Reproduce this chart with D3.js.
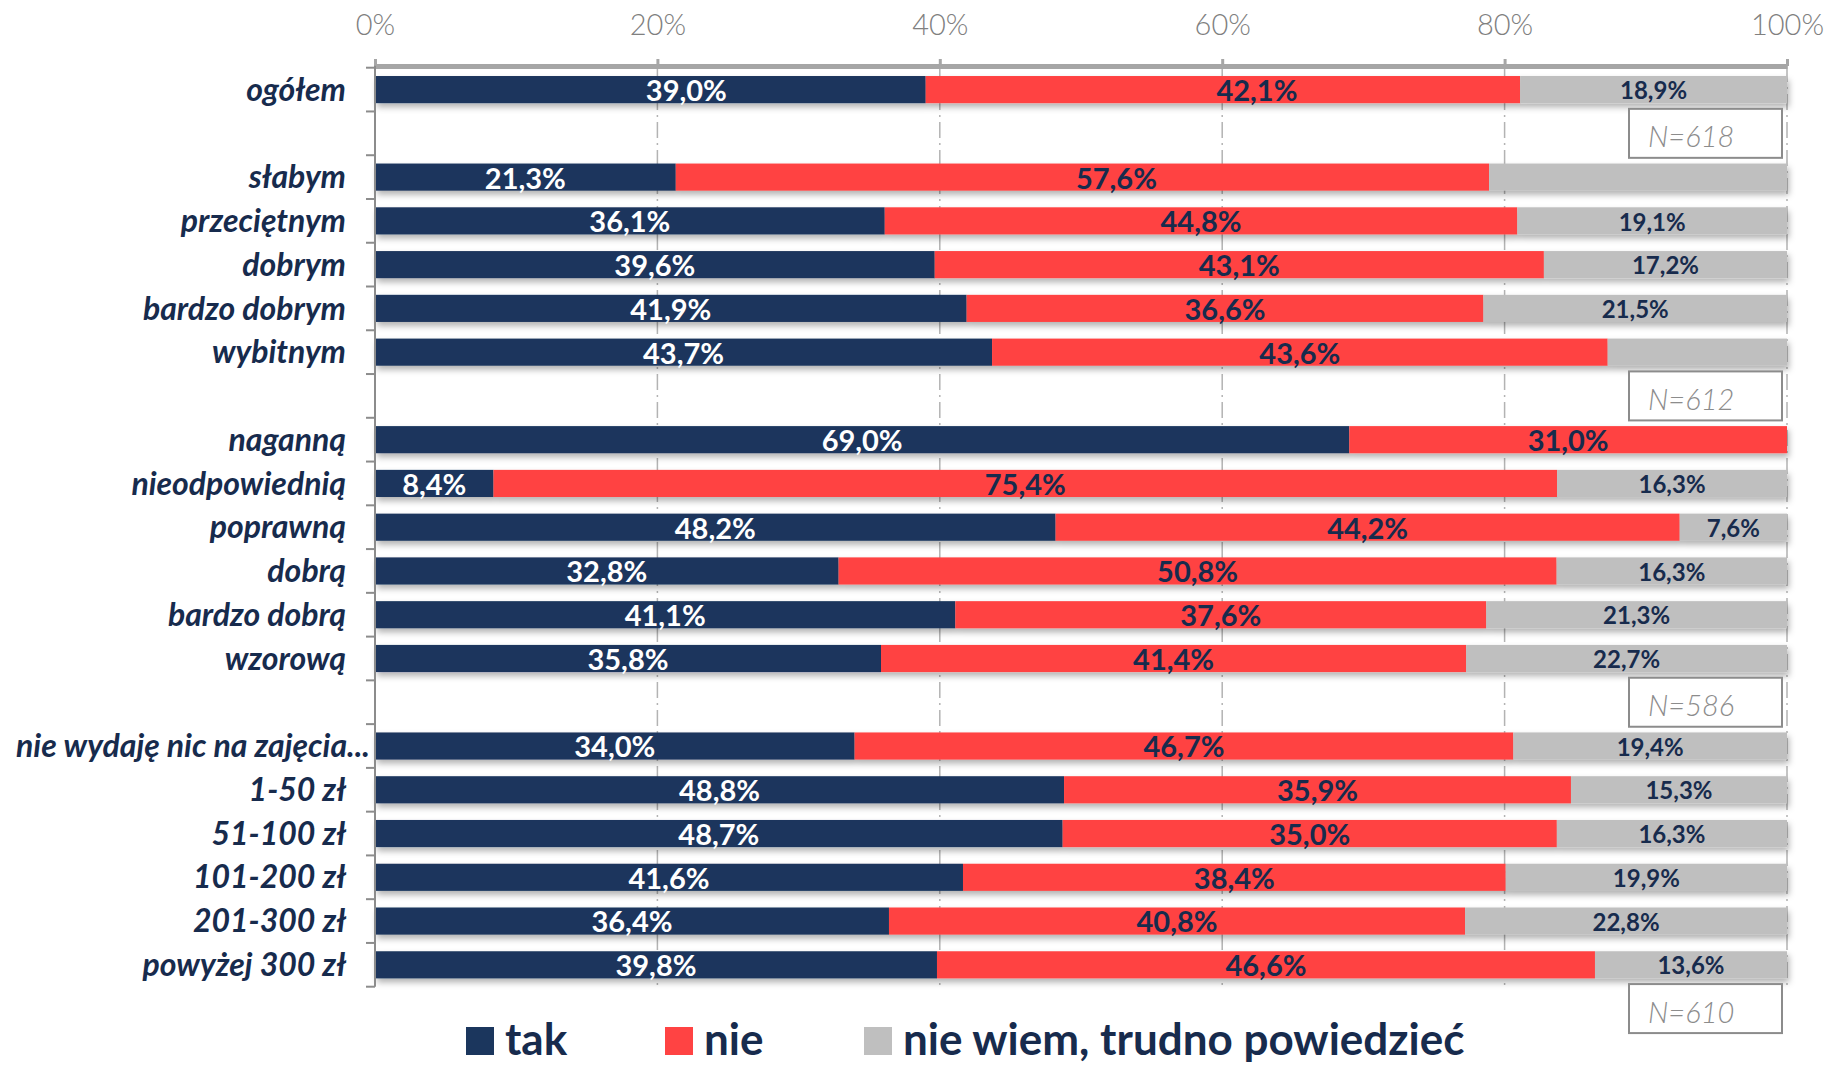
<!DOCTYPE html>
<html><head><meta charset="utf-8">
<script src="https://cdn.jsdelivr.net/npm/d3@7"></script>
<style>body{margin:0;background:#fff} svg{display:block}</style>
</head><body>
<svg id="chart" width="1825" height="1066"></svg>
<script>
// ---- data ----
const groupOgolem = ["ogółem"];
const groupOcena = ["słabym","przeciętnym","dobrym","bardzo dobrym","wybitnym"];
const groupZachowanie = ["naganną","nieodpowiednią","poprawną","dobrą","bardzo dobrą","wzorową"];
const groupWydatki = ["nie wydaję nic na zajęcia...","1-50 zł","51-100 zł","101-200 zł","201-300 zł","powyżej 300 zł"];
const sampleSizes = ["N=618","N=612","N=586","N=610"];
const seriesNames = ["tak","nie","nie wiem, trudno powiedzieć"];
const tak     = [39.0, 21.3,36.1,39.6,41.9,43.7, 69.0, 8.4,48.2,32.8,41.1,35.8, 34.0,48.8,48.7,41.6,36.4,39.8];
const nie     = [42.1, 57.6,44.8,43.1,36.6,43.6, 31.0,75.4,44.2,50.8,37.6,41.4, 46.7,35.9,35.0,38.4,40.8,46.6];
const nieWiem = [18.9, 21.1,19.1,17.2,21.5,12.7,  0.0,16.3, 7.6,16.3,21.3,22.7, 19.4,15.3,16.3,19.9,22.8,13.6];
const unlabeledNieWiem = ["słabym","wybitnym","naganną"];
const xTicks = [0,0.2,0.4,0.6,0.8,1];

// ---- build ----
const groups = [groupOgolem, groupOcena, groupZachowanie, groupWydatki];
const categories = groups.flat();
const slots = [];
groups.forEach((g,i)=>{ g.forEach(c=>slots.push(c)); if(i<groups.length-1) slots.push("__gap"+i); });
const rows = categories.map((c,i)=>({cat:c, "tak":tak[i], "nie":nie[i], "nie wiem, trudno powiedzieć":nieWiem[i]}));
const stacked = d3.stack().keys(seriesNames).offset(d3.stackOffsetExpand)(rows);

const colors = {"tak":"#1b365d","nie":"#ff4343","nie wiem, trudno powiedzieć":"#bfbfbf"};
const navy = "#172b4d";
const FONT = "Lato, 'Open Sans', 'DejaVu Sans', sans-serif";

const svg = d3.select("#chart").style("font-family", FONT);
const x = d3.scaleLinear().domain([0,1]).range([375,1787]);
const y = d3.scaleBand().domain(slots).range([67.7,986.7]).paddingInner(0.38).paddingOuter(0.19);

const defs = svg.append("defs");
const f = defs.append("filter").attr("id","sh").attr("x","-5%").attr("y","-50%").attr("width","110%").attr("height","220%");
f.append("feDropShadow").attr("dx",2).attr("dy",4).attr("stdDeviation",3).attr("flood-color","#000").attr("flood-opacity",0.3);

// gridlines
svg.append("g").selectAll("line").data(xTicks.filter(d=>d>0)).join("line")
  .attr("x1",d=>x(d)).attr("x2",d=>x(d)).attr("y1",66).attr("y2",987)
  .attr("stroke","#b3b3b3").attr("stroke-width",1.5).attr("stroke-dasharray","16,5,2,5");

// bars
const barG = svg.append("g").attr("filter","url(#sh)");
barG.selectAll("g").data(stacked).join("g").attr("fill",d=>colors[d.key])
  .selectAll("rect").data(d=>d).join("rect")
  .attr("x",d=>x(d[0])).attr("width",d=>Math.max(0,x(d[1])-x(d[0])))
  .attr("y",d=>y(d.data.cat)).attr("height",y.bandwidth());

// top axis
const axT = svg.append("g").attr("transform","translate(0,66)")
  .call(d3.axisTop(x).tickValues(xTicks).tickFormat(d3.format(".0%")).tickSize(7).tickSizeOuter(0));
axT.select(".domain").attr("stroke","#a6a6a6").attr("stroke-width",5);
axT.selectAll(".tick line").attr("stroke","#a6a6a6").attr("stroke-width",3);
axT.selectAll(".tick text").attr("y",-31).attr("dy",0).attr("fill","#808080")
  .style("font-size","29px").style("font-weight",300).style("font-family",FONT);

// left axis
const step = y.step();
const yTop = y.range()[0], yBot = y.range()[1];
const axL = svg.append("g");
axL.append("line").attr("x1",375).attr("x2",375).attr("y1",yTop-2).attr("y2",yBot).attr("stroke","#8c8c8c").attr("stroke-width",2);
axL.selectAll("line.t").data(d3.range(slots.length+1)).join("line").attr("class","t")
  .attr("x1",366).attr("x2",375).attr("y1",i=>yTop+i*step).attr("y2",i=>yTop+i*step)
  .attr("stroke","#8c8c8c").attr("stroke-width",2);

// category labels
const catT = svg.append("g").selectAll("text").data(categories).join("text")
  .attr("y",d=>y(d)+y.bandwidth()/2).attr("dy","0.35em")
  .attr("fill",navy).style("font-size","32px").style("font-weight",700).style("font-style","italic")
  .text(d=>d);
catT.each(function(){
  const w = this.getComputedTextLength();
  if (w > 330) d3.select(this).attr("x",16).attr("text-anchor","start");
  else d3.select(this).attr("x",346).attr("text-anchor","end");
});

// value labels
const fmt = v => d3.format(".1f")(v).replace(".",",")+"%";
const nudge = {"tak|ogółem":36, "nie|ogółem":34, "nie|słabym":34};
const labG = svg.append("g");
stacked.forEach(layer=>{
  const k = layer.key;
  labG.append("g").selectAll("text").data(layer.filter(d=>{
      const v = d.data[k];
      return v>0 && !(k===seriesNames[2] && unlabeledNieWiem.includes(d.data.cat));
    })).join("text")
    .attr("x",d=>(x(d[0])+x(d[1]))/2 + (nudge[k+"|"+d.data.cat]||0))
    .attr("y",d=>y(d.data.cat)+y.bandwidth()/2+1).attr("dy","0.36em")
    .attr("text-anchor","middle")
    .attr("fill", k==="tak" ? "#ffffff" : navy)
    .style("font-size", k===seriesNames[2] ? "24px" : "29px").style("font-weight",700)
    .text(d=>fmt(d.data[k]));
});

// sample size boxes (in gap after each group, last one below)
const nG = svg.append("g");
sampleSizes.forEach((s,i)=>{
  const cy = i<groups.length-1 ? y("__gap"+i)+y.bandwidth()/2 : yBot + step/2;
  const bx = x(1)-158, bw = 153, bh = 49;
  nG.append("rect").attr("x",bx).attr("y",cy-bh/2).attr("width",bw).attr("height",bh)
    .attr("fill","#fff").attr("stroke","#8c8c8c").attr("stroke-width",2);
  nG.append("text").attr("x",bx+19).attr("y",cy+4).attr("dy","0.35em")
    .attr("fill","#8c8c8c").style("font-size","29px").style("font-style","italic").style("font-weight",300)
    .text(s);
});

// legend
const lg = svg.append("g").attr("transform","translate(466,1040)");
const li = lg.selectAll("g").data(seriesNames).join("g").attr("transform",(d,i)=>`translate(${i*199},0)`);
li.append("rect").attr("x",0).attr("y",-13).attr("width",28).attr("height",28).attr("fill",d=>colors[d]);
li.append("text").attr("x",39).attr("y",0).attr("dy","0.33em").attr("fill",navy)
  .style("font-size","44px").style("font-weight",700).text(d=>d);
</script>
</body></html>
